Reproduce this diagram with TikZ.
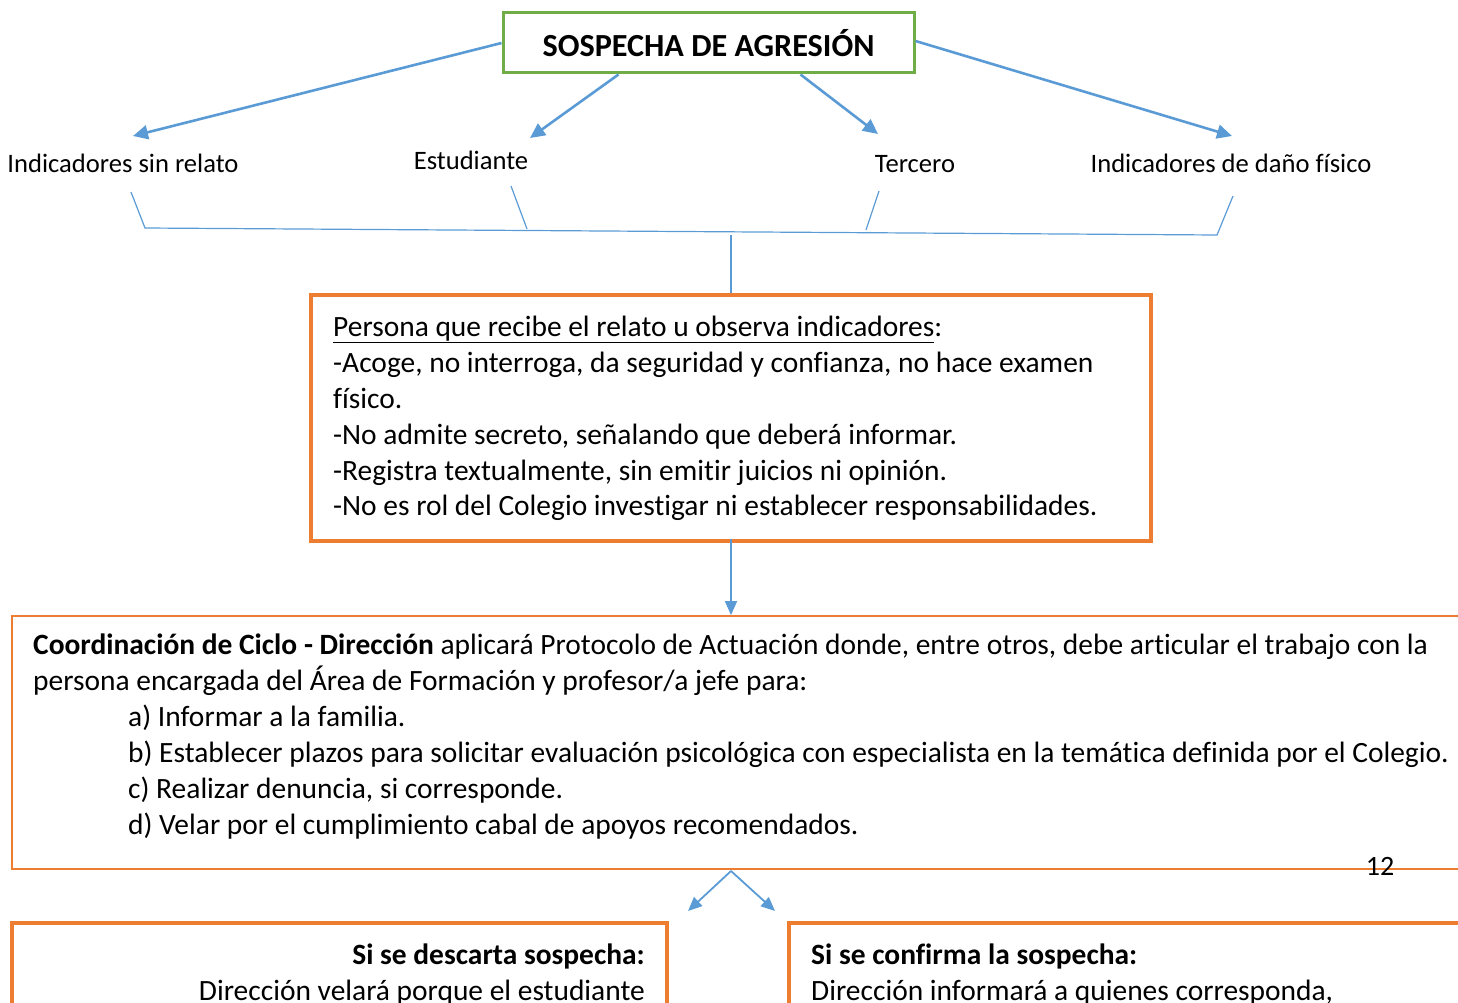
\documentclass[tikz,border=0pt]{standalone}
\usepackage{fontspec}
\setmainfont[Ligatures={NoCommon}]{Carlito}
\usetikzlibrary{arrows.meta}
\definecolor{ablue}{HTML}{5B9BD5}
\definecolor{aorange}{HTML}{ED7D31}
\definecolor{agreen}{HTML}{70AD47}
\begin{document}
\begin{tikzpicture}[x=1pt,y=-1pt,
  bodytxt/.style={font=\fontsize{29.45}{36}\selectfont, inner sep=0pt, anchor=base west},
  bodyright/.style={font=\fontsize{29.45}{36}\selectfont, inner sep=0pt, anchor=base east},
  labtxt/.style={font=\fontsize{26.6}{32}\selectfont, inner sep=0pt, anchor=base},
  bigarrow/.style={draw=ablue, line width=2.6pt, -{Triangle[length=15pt,width=14pt]}},
  smallarrow/.style={draw=ablue, line width=1.8pt, -{Triangle[length=14pt,width=12pt]}},
  thinline/.style={draw=ablue, line width=1.2pt},
  obox/.style={draw=aorange, line width=3.5pt, inner sep=0pt},
  gbox/.style={draw=agreen, line width=3pt, inner sep=0pt}]
\useasboundingbox (0,0) rectangle (1458,1003);
\clip (0,0) rectangle (1458,1003);

% title
\node[gbox, minimum width=411pt, minimum height=60pt, text height=28pt, text depth=0pt,
  font=\bfseries\fontsize{32.2}{36}\selectfont] (title) at (708.5,43) {SOSPECHA DE AGRESIÓN};

% labels
\node[labtxt] (lA) at (123,173) {Indicadores sin relato};
\node[labtxt] (lB) at (471,170) {Estudiante};
\node[labtxt] (lC) at (915,173) {Tercero};
\node[labtxt] (lD) at (1231,173) {Indicadores de daño físico};

\coordinate (tA) at (133,136);
\coordinate (tB) at (530,138);
\coordinate (tC) at (878,134);
\coordinate (tD) at (1232,136);

\draw[bigarrow] (title.west) -- (tA);
\draw[bigarrow] ([xshift=-90pt]title.south) -- (tB);
\draw[bigarrow] ([xshift=92pt]title.south) -- (tC);
\draw[bigarrow] ([yshift=2pt]title.east) -- (tD);

% bracket
\coordinate (b1t) at (131,192); \coordinate (b1b) at (145,228);
\coordinate (b2t) at (511,186); \coordinate (b2b) at (527,229);
\coordinate (b3t) at (879,191); \coordinate (b3b) at (866,230);
\coordinate (b4t) at (1233,196); \coordinate (b4b) at (1217,235);
\coordinate (bm) at (731,235);
\draw[thinline] (b1t) -- (b1b) -- (b4b) -- (b4t);
\draw[thinline] (b2t) -- (b2b);
\draw[thinline] (b3t) -- (b3b);

% box persona
\node[obox, minimum width=840pt, minimum height=246pt] (persona) at (731,418) {};
\draw[thinline] (bm) -- (persona.north);
\node[bodytxt] (p1) at (333,336) {\underline{Persona que recibe el relato u observa indicadores}:};
\node[bodytxt] (p2) at (333,372) {-Acoge, no interroga, da seguridad y confianza, no hace examen};
\node[bodytxt] (p3) at (333,408) {físico.};
\node[bodytxt] (p4) at (333,444) {-No admite secreto, señalando que deberá informar.};
\node[bodytxt] (p5) at (333,480) {-Registra textualmente, sin emitir juicios ni opinión.};
\node[bodytxt] (p6) at (333,515) {-No es rol del Colegio investigar ni establecer responsabilidades.};

% coordination box
\node[draw=aorange, line width=1.8pt, inner sep=0pt, minimum width=1460pt, minimum height=253pt] (coord) at (742,742.5) {};
\draw[smallarrow] ([yshift=4pt]persona.south) -- (persona.south |- coord.north);
\node[bodytxt] (c1) at (33,654) {\textbf{Coordinación de Ciclo - Dirección} aplicará Protocolo de Actuación donde, entre otros, debe articular el trabajo con la};
\node[bodytxt] (c2) at (33,690) {persona encargada del Área de Formación y profesor/a jefe para:};
\node[bodytxt] (c3) at (128,726) {a) Informar a la familia.};
\node[bodytxt] (c4) at (128,762) {b) Establecer plazos para solicitar evaluación psicológica con especialista en la temática definida por el Colegio.};
\node[bodytxt] (c5) at (128,798) {c) Realizar denuncia, si corresponde.};
\node[bodytxt] (c6) at (128,834) {d) Velar por el cumplimiento cabal de apoyos recomendados.};

\node[labtxt, font=\fontsize{28}{32}\selectfont] (pg) at (1380,875) {12};

% split arrows
\coordinate (split) at (731,871);
\coordinate (tL) at (688,911);
\coordinate (tR) at (775,911);
\draw[smallarrow] (split) -- (tL);
\draw[smallarrow] (split) -- (tR);

% bottom boxes
\node[obox, minimum width=655pt, minimum height=130pt] (descarta) at (339.5,988) {};
\node[obox, minimum width=700pt, minimum height=130pt] (confirma) at (1139,988) {};
\node[bodyright] (d1) at (645,964) {\textbf{Si se descarta sospecha:}};
\node[bodyright] (d2) at (645,1000) {Dirección velará porque el estudiante};
\node[bodytxt] (f1) at (811,964) {\textbf{Si se confirma la sospecha:}};
\node[bodytxt] (f2) at (811,1000) {Dirección informará a quienes corresponda,};
\end{tikzpicture}
\end{document}
